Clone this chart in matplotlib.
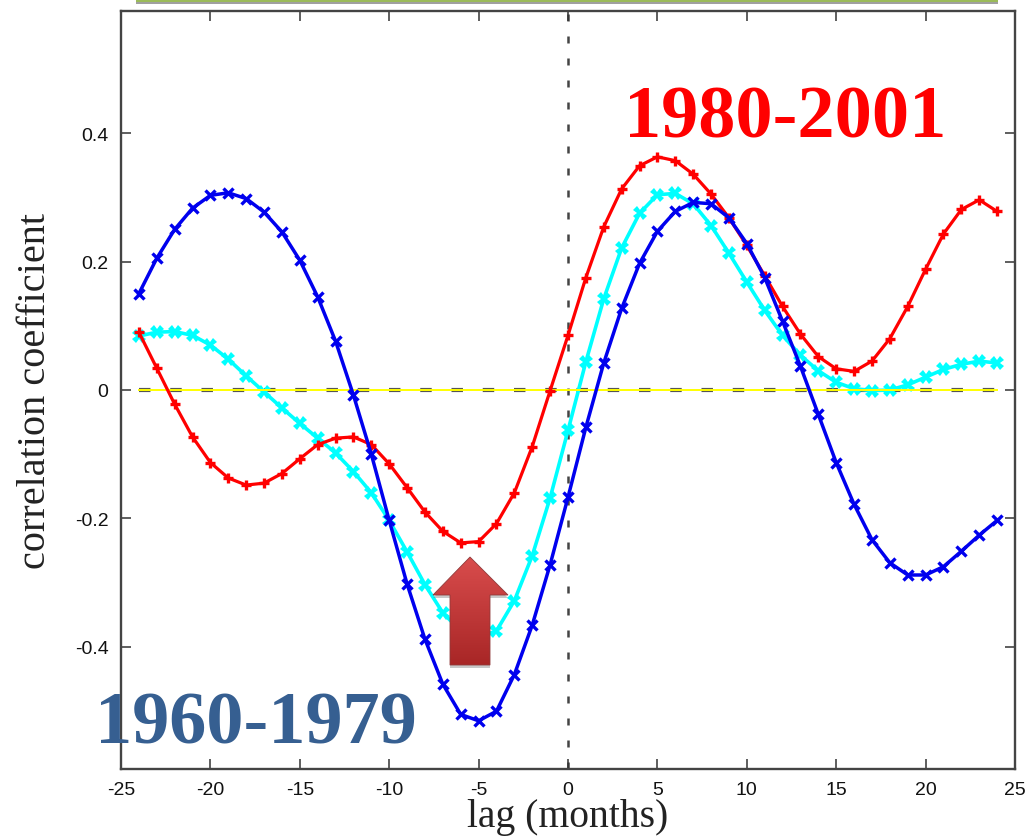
import matplotlib
matplotlib.use('Agg')
import matplotlib.pyplot as plt
import numpy as np
from matplotlib.patches import Polygon, Rectangle

lags = list(range(-24, 25))
corr_1960_1979 = [0.150, 0.205, 0.250, 0.283, 0.303, 0.307, 0.298, 0.277, 0.246, 0.202,
                  0.145, 0.076, -0.008, -0.100, -0.203, -0.302, -0.388, -0.458, -0.505, -0.515,
                  -0.500, -0.443, -0.366, -0.272, -0.167, -0.058, 0.042, 0.127, 0.197, 0.247,
                  0.278, 0.292, 0.290, 0.268, 0.228, 0.175, 0.107, 0.037, -0.038, -0.113,
                  -0.178, -0.233, -0.269, -0.288, -0.288, -0.275, -0.251, -0.226, -0.203]
corr_1980_2001 = [0.090, 0.034, -0.022, -0.073, -0.113, -0.137, -0.148, -0.145, -0.130, -0.107,
                  -0.085, -0.075, -0.073, -0.085, -0.115, -0.152, -0.190, -0.220, -0.238, -0.236,
                  -0.208, -0.160, -0.088, -0.001, 0.085, 0.175, 0.254, 0.313, 0.349, 0.363,
                  0.357, 0.336, 0.305, 0.268, 0.225, 0.178, 0.130, 0.087, 0.052, 0.033,
                  0.029, 0.045, 0.080, 0.130, 0.188, 0.243, 0.281, 0.296, 0.278]
corr_all = [0.084, 0.090, 0.091, 0.085, 0.070, 0.048, 0.022, -0.003, -0.028, -0.052,
            -0.075, -0.098, -0.127, -0.160, -0.203, -0.252, -0.303, -0.347, -0.375, -0.385,
            -0.375, -0.328, -0.258, -0.168, -0.063, 0.044, 0.142, 0.221, 0.275, 0.304,
            0.306, 0.290, 0.256, 0.213, 0.168, 0.124, 0.085, 0.054, 0.030, 0.012,
            0.002, -0.001, 0.000, 0.008, 0.020, 0.032, 0.040, 0.045, 0.042]
x_ticks = [-25, -20, -15, -10, -5, 0, 5, 10, 15, 20, 25]
x_tick_labels = ['-25', '-20', '-15', '-10', '-5', '0', '5', '10', '15', '20', '25']
y_ticks = [-0.4, -0.2, 0, 0.2, 0.4]
y_tick_labels = ['-0.4', '-0.2', '0', '0.2', '0.4']

W, H = 1026, 837
fig = plt.figure(figsize=(W / 100, H / 100), dpi=100)
ax = fig.add_axes([121 / W, 1 - 770 / H, (1015 - 121) / W, (770 - 12) / H])

# zero lines first, the data goes on top
ax.plot([-24, 24], [0, 0], color='#555555', linewidth=3.0, dashes=(2.75, 4.75), zorder=1)
ax.axvline(0, color='#444444', linewidth=1.8, dashes=(2.8, 6), zorder=1)

ax.plot(lags, corr_all, color='#00ffff', linewidth=2.6, marker='X', markersize=10,
        markeredgewidth=0, zorder=2)
ax.plot([-24, 24], [0, 0], color='#ffff00', linewidth=1.4, zorder=2.5)
ax.plot(lags, corr_1980_2001, color='#ff0000', linewidth=2.3, marker='+', markersize=7,
        markeredgewidth=2.4, zorder=3)
ax.plot(lags, corr_1960_1979, color='#0000ee', linewidth=2.5, marker='x', markersize=7,
        markeredgewidth=2.4, zorder=4)

ax.set_xlim(-25, 25)
ax.set_ylim(-0.59, 0.59)
ax.set_xticks(x_ticks)
ax.set_xticklabels(x_tick_labels)
ax.set_yticks(y_ticks)
ax.set_yticklabels(y_tick_labels)
ax.tick_params(direction='in', length=7, width=1.1, color='#333333', top=True, right=True,
               labelsize=14, pad=9, labelcolor='#111111')
for label in ax.get_xticklabels() + ax.get_yticklabels():
    label.set_family('Liberation Sans')
for spine in ax.spines.values():
    spine.set_linewidth(1.7)
    spine.set_color('#444444')

# overlay in pixel coordinates for the slide decorations
over = fig.add_axes([0, 0, 1, 1], facecolor='none')
over.set_xlim(0, W)
over.set_ylim(H, 0)
over.axis('off')

over.add_patch(Rectangle((136, 0), 862, 4.5, color='#a0a0a0', linewidth=0, clip_on=False))
over.add_patch(Rectangle((136, 0), 862, 3, color='#9bbb59', linewidth=0, clip_on=False))

arrow_xy = [(470, 558), (508, 596), (490, 596), (490, 666), (450, 666), (450, 596), (433, 596)]
shadow = Polygon([(x, y + 3) for x, y in arrow_xy], closed=True, facecolor='#777777',
                 edgecolor='none', alpha=0.4, zorder=5)
over.add_patch(shadow)
shade = np.linspace(0, 1, 64).reshape(-1, 1)
colors = np.array([0.85, 0.30, 0.30]) * (1 - shade[..., None]) + np.array([0.66, 0.15, 0.15]) * shade[..., None]
img = over.imshow(colors, extent=(433, 508, 666, 558), aspect='auto', zorder=6)
arrow = Polygon(arrow_xy, closed=True, facecolor='none', edgecolor='#8f3a3a', linewidth=0.6, zorder=7)
over.add_patch(arrow)
img.set_clip_path(arrow)
over.set_xlim(0, W)
over.set_ylim(H, 0)

over.text(785, 119, '1980-2001', color='#ff0000', fontsize=53.5, fontweight='bold',
          family='Liberation Serif', ha='center', va='center', zorder=8)
over.text(256, 725, '1960-1979', color='#365f91', fontsize=53.5, fontweight='bold',
          family='Liberation Serif', ha='center', va='center', zorder=8)
over.text(36, 391, 'correlation coefficient', color='#222222', fontsize=29, rotation=90,
          family='Liberation Serif', ha='center', va='center')
over.text(568, 818, 'lag (months)', color='#222222', fontsize=28.5,
          family='Liberation Serif', ha='center', va='center')

fig.savefig('out.png', dpi=100)
